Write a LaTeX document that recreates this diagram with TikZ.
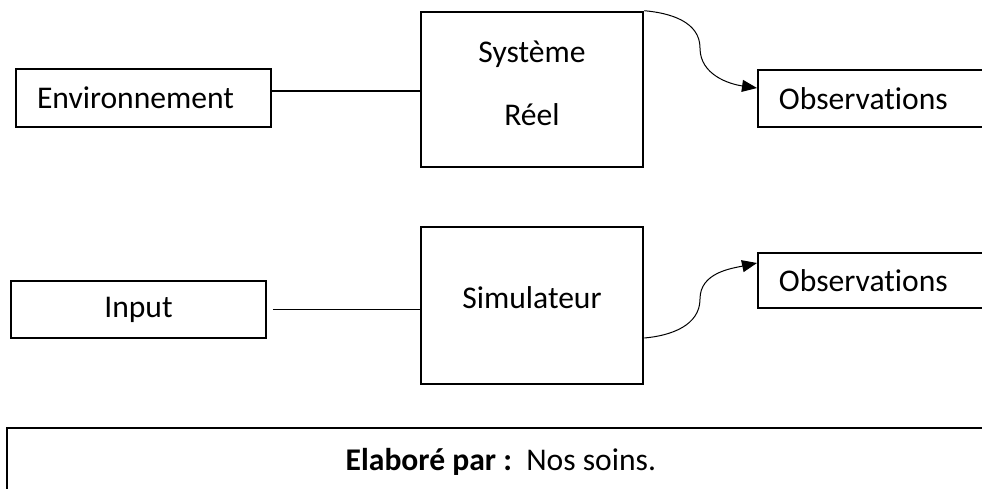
\documentclass[tikz,border=0pt]{standalone}
\usepackage{fontspec}
\setmainfont{Carlito}[Ligatures=NoCommon]
\usetikzlibrary{arrows.meta}

\tikzset{
  basebox/.style={draw, rectangle, inner sep=0pt, font=\fontsize{31.6}{38}\selectfont},
  sidebox/.style={basebox, line width=1.8pt},
  corebox/.style={basebox, line width=2.6pt},
  leftbox/.style={sidebox, align=left, inner xsep=21pt},
  link/.style={line width=1.9pt},
  flow/.style={line width=1pt, -{Triangle[length=15pt,width=12pt]}},
}

\begin{document}
\begin{tikzpicture}[x=1pt,y=-1pt]
  \useasboundingbox (0,0) rectangle (982,488);

  % real system row
  \node[leftbox, minimum width=255pt, minimum height=58pt, text width=213pt]
    (env) at (143.5,98) {Environnement};
  \node[corebox, minimum width=222pt, minimum height=155pt, align=center,
        font=\fontsize{31.6}{63}\selectfont]
    (sys) at (532,89.5) {\raisebox{6pt}[\height][\depth]{Système}\\\raisebox{6pt}[\height][\depth]{Réel}};
  \node[leftbox, minimum width=230pt, minimum height=57pt, text width=188pt, anchor=west]
    (obs1) at (757,98.5) {Observations};

  \coordinate (envout) at ([yshift=7pt]env.east);
  \coordinate (bendA) at (700,48);
  \draw[link] (envout) -- (envout -| sys.west);
  \draw[flow] (sys.north east) to[out=-5,in=90] (bendA)
                               to[out=-90,in=172] ([yshift=10.5pt]obs1.west);

  % simulator row
  \node[sidebox, minimum width=255pt, minimum height=57pt]
    (inp) at (138.5,309.5) {Input};
  \node[corebox, minimum width=222pt, minimum height=157pt]
    (sim) at (532,305.5) {\raisebox{8pt}[\height][\depth]{Simulateur}};
  \node[leftbox, minimum width=230pt, minimum height=55pt, text width=188pt, anchor=west]
    (obs2) at (757,280.5) {Observations};

  \coordinate (bendB) at (700,299);
  \draw[link, shorten <=6pt] (inp.east) -- (inp.east -| sim.west);
  \draw[flow] ([yshift=-32.5pt]sim.east) to[out=5,in=-90] (bendB)
                                         to[out=90,in=192] ([yshift=17.5pt]obs2.west);

  % source note
  \node[sidebox, minimum width=988pt, minimum height=68pt, anchor=north west]
    (note) at (6,427) {\textbf{Elaboré par :}\ \ Nos soins.};
\end{tikzpicture}
\end{document}
